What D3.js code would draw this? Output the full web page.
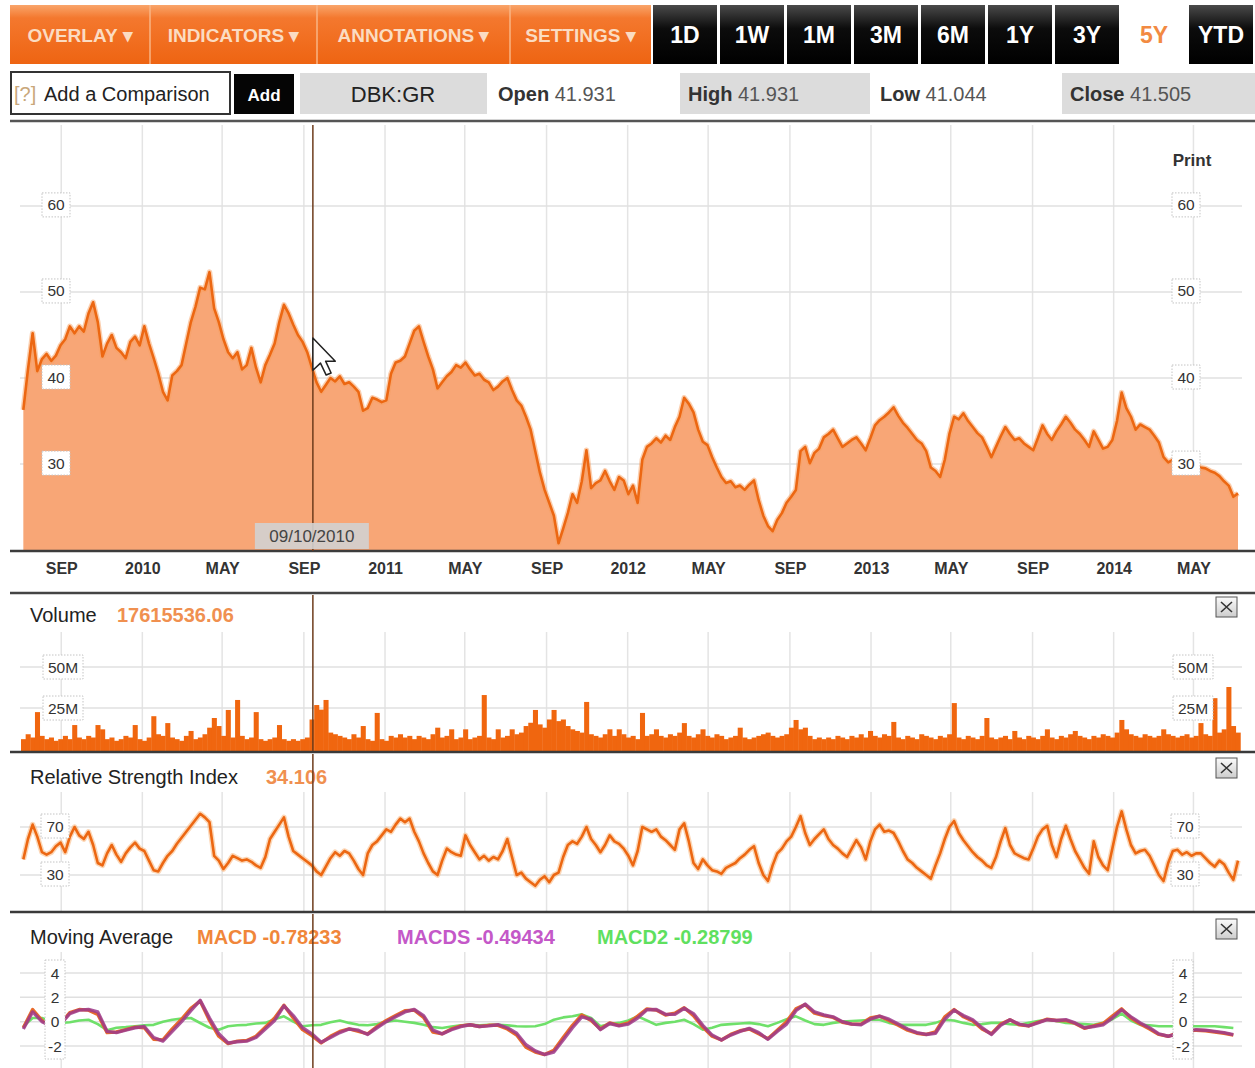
<!DOCTYPE html>
<html><head><meta charset="utf-8">
<script src="https://cdn.jsdelivr.net/npm/d3@7"></script>
<style>
html,body{margin:0;padding:0;background:#fff;}
svg{display:block;font-family:"Liberation Sans",Arial,sans-serif;}
</style></head><body>
<svg id="chart" width="1255" height="1068"></svg>
<script>
// ---------- data ----------
const weeklyStart = "2009-07-06";       // weekly samples (price, volume, RSI)
const fortnightStart = "2009-07-06";    // fortnightly samples (MACD family)

const priceValues = [
 36.3,41.0,45.2,40.8,42.2,42.8,42.0,42.6,43.8,44.5,
 46.0,45.2,46.0,45.4,47.5,48.8,46.5,42.5,44.0,45.0,
 43.5,43.0,42.3,44.2,44.8,43.8,46.0,44.0,42.3,40.5,
 38.4,37.4,40.3,40.8,41.5,44.0,46.5,48.3,50.5,50.3,
 52.3,48.1,46.5,44.5,43.0,42.3,43.0,41.0,41.5,43.5,
 41.2,39.5,41.5,42.7,44.0,46.5,48.5,47.5,46.2,45.0,
 44.2,43.0,41.2,39.5,38.4,39.2,40.0,39.6,40.2,39.3,
 39.5,39.0,38.4,36.2,36.5,37.7,37.5,37.2,37.4,40.5,
 41.8,42.0,42.5,44.0,45.5,46.0,44.2,42.5,41.0,38.8,
 39.5,40.2,40.7,41.5,41.2,41.8,41.0,40.3,40.5,39.8,
 39.5,38.6,39.0,39.6,40.0,38.6,37.4,36.8,35.5,34.0,
 31.5,29.0,27.0,25.5,24.0,20.8,22.5,24.3,26.5,25.5,
 28.0,31.6,27.2,27.8,28.1,29.2,28.0,27.0,28.5,28.1,
 26.5,27.5,25.5,30.5,32.0,32.4,33.0,32.5,33.3,32.8,
 34.3,35.5,37.7,37.0,36.0,34.0,32.6,32.2,30.8,29.6,
 28.5,27.8,28.0,27.3,27.5,27.0,27.6,28.1,25.8,24.0,
 22.8,22.2,23.5,24.3,25.5,26.2,27.0,31.5,32.0,30.1,
 31.3,31.8,33.1,33.5,34.0,33.0,32.0,32.4,32.8,33.1,
 32.4,31.6,33.0,34.5,35.1,35.5,36.0,36.6,35.6,34.8,
 34.2,33.5,32.8,32.4,31.5,29.6,29.2,28.5,30.5,33.5,
 35.5,35.2,35.9,35.0,34.3,33.6,33.1,32.0,30.8,32.0,
 33.2,34.3,33.5,32.8,33.0,32.4,32.0,31.6,33.0,34.5,
 33.5,32.8,33.8,34.6,35.5,34.8,34.0,33.5,32.8,32.0,
 33.8,32.8,31.8,32.0,32.8,35.0,38.3,36.5,35.5,34.0,
 34.6,34.3,34.0,33.3,32.5,30.8,30.2,30.5,30.0,30.6,
 30.2,29.8,30.0,29.6,29.5,29.2,29.0,28.6,28.0,27.5,
 26.2,26.6];

// volume in millions of shares
const volumeValues = [
 6,9,7,22.5,8,6,7,5,6,8,
 6,14.6,7,6,8,7,14.6,12,6,7,
 5,6,8,7,14.6,6,5,7,20,9,
 8,15.8,7,6,5,8,11,6,7,9,
 13,18.9,14,8,23.8,7,29.9,8,6,7,
 22.5,6,5,6,7,14.6,6,5,6,5,
 6,7,18,26.8,24,29.9,10,9,8,7,
 6,9,7,14,6,5,22,6,5,8,
 7,9,7,8,6,8,7,6,9,13,
 7,8,12,6,7,12,6,7,8,32.9,
 7,6,12,7,8,12,9,10,14,16,
 23.8,15,13,18,23.8,17,18,14,12,11,
 10,28.7,9,8,7,9,12,8,12,9,
 7,8,6,22,8,9,12,8,7,9,
 8,10,15.8,8,7,9,12,8,7,9,
 8,6,7,8,13,7,6,7,8,9,
 10,8,7,8,9,13,17.7,12,13,8,
 6,7,6,7,6,8,7,6,8,7,
 9,7,11,8,7,9,8,16.5,7,6,
 8,7,6,9,8,7,6,8,7,9,
 28,7,6,8,7,6,8,18.9,7,6,
 7,8,6,11,7,6,8,7,6,8,
 12,7,6,8,7,9,11,8,7,6,
 8,7,9,8,7,10,17.7,12,9,8,
 7,9,8,7,8,12,9,8,7,8,
 9,7,8,15.8,9,8,31,10,12,37.8,
 14,10];

const rsiValues = [
 43,60,72,62,49,47,49,54,57,49,
 62,70,63,60,66,55,40,38,48,55,
 47,41,48,53,57,52,50,42,34,33,
 40,46,50,56,61,66,71,76,81,78,
 74,46,42,35,40,46,44,42,43,41,
 38,36,45,60,66,72,78,62,50,47,
 44,41,38,33,30,37,44,49,46,50,
 48,42,35,30,48,55,58,63,68,66,
 72,77,74,77,66,58,48,40,33,30,
 42,52,49,47,46,63,55,49,43,46,
 42,45,43,50,60,45,30,32,27,24,
 21,26,29,24,30,32,45,55,58,56,
 62,70,60,55,49,55,63,58,56,52,
 46,38,50,70,68,66,68,62,59,55,
 51,68,73,58,40,35,43,38,34,33,
 31,36,38,40,44,47,51,54,40,30,
 25,38,48,52,58,62,70,79,65,55,
 60,64,68,60,55,52,48,45,52,59,
 53,43,58,68,72,66,67,65,58,50,
 43,40,36,33,30,27,38,48,60,70,
 75,65,59,54,49,45,42,38,36,45,
 58,69,55,48,46,44,43,52,62,68,
 71,55,45,60,71,60,50,43,36,31,
 58,45,38,34,52,70,83,68,55,48,
 50,51,46,38,30,25,40,50,51,47,
 49,46,48,48,44,40,37,42,39,32,
 26,42];

const macdValues = [
 -0.5,1.0,0.1,-0.4,-0.15,0.75,1.0,0.95,0.6,-0.9,
 -0.85,-0.65,-0.45,-0.5,-1.45,-1.5,-0.6,0.2,1.1,1.7,
 0.1,-1.2,-1.8,-1.6,-1.55,-1.2,-0.45,0.3,1.35,0.3,
 -0.65,-1.15,-1.75,-1.2,-0.8,-0.6,-0.8,-1.0,-0.4,0.1,
 0.5,0.9,0.95,0.35,-0.85,-1.0,-0.6,-0.35,-0.25,-0.4,
 -0.3,-0.3,-0.6,-1.1,-2.1,-2.5,-2.7,-2.35,-1.3,-0.3,
 0.55,0.1,-0.6,-0.1,-0.3,-0.1,0.45,1.05,0.95,0.55,
 0.7,1.15,0.5,-0.45,-1.2,-1.5,-1.05,-0.75,-0.6,-1.0,
 -1.4,-0.7,0.0,1.05,1.4,0.7,0.5,0.35,-0.05,-0.2,
 -0.2,0.3,0.45,0.1,-0.3,-0.7,-0.95,-1.05,-0.85,0.4,
 1.0,0.4,0.05,-0.6,-1.0,-0.2,0.15,-0.25,-0.35,-0.05,
 0.2,0.1,0.1,-0.15,-0.55,-0.35,-0.15,0.45,1.05,0.3,
 -0.2,-0.6,-1.05,-1.2,-0.95,-0.8,-0.7,-0.75,-0.85,-0.95,
 -1.1];

const macdsValues = [
 -0.6,0.8,0.0,-0.35,-0.2,0.66,0.95,1.0,0.8,-0.8,
 -0.9,-0.7,-0.5,-0.4,-1.3,-1.6,-0.8,0.0,0.9,1.75,
 0.3,-1.0,-1.75,-1.65,-1.6,-1.3,-0.6,0.1,1.3,0.5,
 -0.5,-1.0,-1.7,-1.3,-0.9,-0.6,-0.7,-1.05,-0.5,0.0,
 0.4,0.8,1.0,0.5,-0.7,-1.0,-0.66,-0.4,-0.25,-0.4,
 -0.35,-0.25,-0.5,-0.95,-1.9,-2.4,-2.7,-2.5,-1.5,-0.5,
 0.4,0.2,-0.66,-0.15,-0.35,-0.2,0.3,0.98,1.0,0.6,
 0.6,1.1,0.66,-0.3,-1.1,-1.5,-1.1,-0.8,-0.55,-0.9,
 -1.45,-0.8,-0.2,0.9,1.45,0.8,0.55,0.4,0.0,-0.2,
 -0.25,0.2,0.45,0.2,-0.2,-0.6,-0.9,-1.05,-0.95,0.2,
 0.95,0.5,0.16,-0.5,-1.05,-0.3,0.16,-0.2,-0.35,-0.1,
 0.16,0.1,0.16,-0.1,-0.5,-0.4,-0.26,0.3,0.98,0.4,
 -0.1,-0.5,-1.0,-1.2,-1.0,-0.8,-0.66,-0.7,-0.8,-0.9,
 -1.07];

const macd2Values = [
 -0.38,0.3,0.3,0.0,-0.1,-0.05,0.1,0.16,-0.2,-0.7,
 -0.5,-0.45,-0.38,-0.3,-0.26,0.0,0.16,0.25,0.3,-0.11,
 -0.5,-0.66,-0.38,-0.3,-0.26,-0.15,-0.1,0.2,0.44,0.0,
 -0.38,-0.3,-0.26,-0.05,0.1,-0.1,-0.26,-0.3,-0.2,0.0,
 0.1,0.0,-0.1,-0.26,-0.45,-0.52,-0.4,-0.3,-0.26,-0.3,
 -0.26,-0.26,-0.3,-0.38,-0.4,-0.38,-0.2,0.16,0.35,0.44,
 0.6,0.3,-0.38,-0.2,-0.1,0.1,0.44,0.1,-0.26,-0.1,
 0.0,0.16,-0.2,-0.66,-0.5,-0.26,-0.2,-0.15,-0.1,-0.2,
 -0.38,-0.1,0.2,0.44,0.1,-0.2,-0.26,-0.1,0.0,0.05,
 0.1,0.16,0.16,-0.1,-0.26,-0.26,-0.26,-0.26,-0.1,0.16,
 0.1,-0.1,-0.26,-0.2,-0.1,-0.1,-0.2,-0.26,-0.1,0.05,
 0.16,0.05,-0.1,-0.15,-0.2,-0.26,-0.1,0.2,0.66,0.1,
 -0.26,-0.3,-0.38,-0.38,-0.38,-0.38,-0.38,-0.38,-0.38,-0.45,
 -0.52];

const priceTicks = [30, 40, 50, 60];
const volumeTicks = [25, 50];
const volumeTickLabels = ["25M", "50M"];
const rsiTicks = [30, 70];
const macdTicks = [4, 2, 0, -2];
const monthTickLabels = ["SEP","2010","MAY","SEP","2011","MAY","SEP","2012","MAY","SEP","2013","MAY","SEP","2014","MAY"];

const toolbarMenus = ["OVERLAY \u25BE","INDICATORS \u25BE","ANNOTATIONS \u25BE","SETTINGS \u25BE"];
const rangeButtons = ["1D","1W","1M","3M","6M","1Y","3Y","5Y","YTD"];
const activeRange = "5Y";
const symbol = "DBK:GR";
const quoteLabels = ["Open","High","Low","Close"];
const quoteValues = ["41.931","41.931","41.044","41.505"];
const crosshairDate = "2010-09-10";
const crosshairLabel = "09/10/2010";
const volumeReadout = "17615536.06";
const rsiReadout = "34.106";
const macdReadouts = [["MACD","-0.78233"],["MACDS","-0.49434"],["MACD2","-0.28799"]];

// ---------- setup ----------
const svg = d3.select("#chart");
const defs = svg.append("defs");
const parse = d3.timeParse("%Y-%m-%d");
const wk0 = parse(weeklyStart), fn0 = parse(fortnightStart);
const weekDates = priceValues.map((_, i) => d3.timeDay.offset(wk0, 7 * i));
const fortDates = macdValues.map((_, i) => d3.timeDay.offset(fn0, 14 * i));

const ORANGE = "#ec6712", FILL = "#f8a676";

function vgrad(id, stops) {
  const g = defs.append("linearGradient").attr("id", id).attr("x1", 0).attr("y1", 0).attr("x2", 0).attr("y2", 1);
  stops.forEach(([o, c]) => g.append("stop").attr("offset", o).attr("stop-color", c));
}
vgrad("menuGrad", [["0%", "#f9a56a"], ["22%", "#f4782e"], ["100%", "#ee6412"]]);
vgrad("blackGrad", [["0%", "#4a4a4a"], ["40%", "#0c0c0c"], ["100%", "#000"]]);
vgrad("closeGrad", [["0%", "#fbfbfb"], ["100%", "#cdcdcd"]]);

const x = d3.scaleTime()
  .domain([new Date(2009, 6, 4), new Date(2014, 6, 7)])
  .range([22, 1238]);
const monthTicks = x.ticks(d3.timeMonth.every(4));

// ---------- toolbar ----------
const menuEdges = [10, 150, 317, 510, 651];
const tb = svg.append("g");
tb.append("rect").attr("x", 10).attr("y", 5).attr("width", 641).attr("height", 59).attr("fill", "url(#menuGrad)");
toolbarMenus.forEach((m, i) => {
  if (i > 0) tb.append("line").attr("x1", menuEdges[i]).attr("x2", menuEdges[i])
    .attr("y1", 5).attr("y2", 64).attr("stroke", "#f8b585").attr("stroke-width", 1.5);
  tb.append("text").attr("x", (menuEdges[i] + menuEdges[i + 1]) / 2).attr("y", 42)
    .attr("text-anchor", "middle").attr("font-size", 19).attr("font-weight", "bold")
    .attr("fill", "#fbdcc2").text(m);
});
rangeButtons.forEach((r, i) => {
  const bx = 653 + i * 67;
  const active = r === activeRange;
  tb.append("rect").attr("x", bx).attr("y", 5).attr("width", 64).attr("height", 59)
    .attr("fill", active ? "#fff" : "url(#blackGrad)");
  tb.append("text").attr("x", bx + 32).attr("y", 43).attr("text-anchor", "middle")
    .attr("font-size", 23).attr("font-weight", "bold")
    .attr("fill", active ? "#f28a42" : "#fff").text(r);
});

// ---------- quote row ----------
const qr = svg.append("g");
qr.append("rect").attr("x", 11).attr("y", 72).attr("width", 219).attr("height", 42)
  .attr("fill", "#fff").attr("stroke", "#333").attr("stroke-width", 2);
qr.append("text").attr("x", 14).attr("y", 101).attr("font-size", 20).attr("fill", "#c9a77a").text("[?]");
qr.append("text").attr("x", 44).attr("y", 101).attr("font-size", 20).attr("fill", "#222").text("Add a Comparison");
qr.append("rect").attr("x", 234).attr("y", 74).attr("width", 60).attr("height", 40).attr("fill", "#050505");
qr.append("text").attr("x", 264).attr("y", 101).attr("text-anchor", "middle").attr("font-size", 17)
  .attr("font-weight", "bold").attr("fill", "#fff").text("Add");
qr.append("rect").attr("x", 300).attr("y", 73).attr("width", 187).attr("height", 41).attr("fill", "#dcdcdc");
qr.append("text").attr("x", 393).attr("y", 102).attr("text-anchor", "middle").attr("font-size", 22)
  .attr("fill", "#222").text(symbol);
const quoteSlots = [{x: 498, box: false}, {x: 688, box: true, bx: 680, bw: 190}, {x: 880, box: false}, {x: 1070, box: true, bx: 1062, bw: 193}];
quoteLabels.forEach((lab, i) => {
  const s = quoteSlots[i];
  if (s.box) qr.append("rect").attr("x", s.bx).attr("y", 73).attr("width", s.bw).attr("height", 41).attr("fill", "#dcdcdc");
  const t = qr.append("text").attr("x", s.x).attr("y", 101).attr("font-size", 20);
  t.append("tspan").attr("font-weight", "bold").attr("fill", "#333").text(lab);
  t.append("tspan").attr("fill", "#555").text(" " + quoteValues[i]);
});

// ---------- panel frames ----------
const panels = {
  price: {top: 125, bottom: 551},
  volume: {top: 632, bottom: 751},
  rsi: {top: 792, bottom: 911},
  macd: {top: 952, bottom: 1068}
};
const gridG = svg.append("g");
Object.values(panels).forEach(p => {
  gridG.selectAll(null).data(monthTicks).join("line")
    .attr("x1", d => x(d)).attr("x2", d => x(d)).attr("y1", p.top).attr("y2", p.bottom)
    .attr("stroke", "#e4e4e4").attr("stroke-width", 1.5);
});

function clip(id, top, bottom) {
  defs.append("clipPath").attr("id", id).append("rect")
    .attr("x", 10).attr("y", top).attr("width", 1245).attr("height", bottom - top);
  return `url(#${id})`;
}

function hgrid(scale, ticks) {
  gridG.selectAll(null).data(ticks).join("line")
    .attr("x1", 20).attr("x2", 1242).attr("y1", d => scale(d)).attr("y2", d => scale(d))
    .attr("stroke", "#e0e0e0").attr("stroke-width", 1.5);
}

// ---------- price panel ----------
const yP = d3.scaleLinear().domain([19.9, 69.4]).range([551, 125]);
hgrid(yP, priceTicks);
const priceG = svg.append("g").attr("clip-path", clip("cPrice", 123, 551));
const priceData = priceValues.map((v, i) => ({d: weekDates[i], v}));
priceG.append("path").datum(priceData)
  .attr("d", d3.area().x(p => x(p.d)).y0(551).y1(p => yP(p.v)))
  .attr("fill", FILL);
priceG.append("path").datum(priceData)
  .attr("d", d3.line().x(p => x(p.d)).y(p => yP(p.v)))
  .attr("fill", "none").attr("stroke", "#f7a060").attr("stroke-width", 5.5).attr("stroke-opacity", 0.5).attr("stroke-linejoin", "round");
priceG.append("path").datum(priceData)
  .attr("d", d3.line().x(p => x(p.d)).y(p => yP(p.v)))
  .attr("fill", "none").attr("stroke", ORANGE).attr("stroke-width", 2.6).attr("stroke-linejoin", "round");

// ---------- volume panel ----------
const yV = d3.scaleLinear().domain([0, 50]).range([749, 667]);
hgrid(yV, volumeTicks);
const volG = svg.append("g").attr("clip-path", clip("cVol", 600, 751));
const barW = x(weekDates[1]) - x(weekDates[0]);
volG.selectAll("rect").data(volumeValues).join("rect")
  .attr("x", (v, i) => x(weekDates[i]) - barW / 2)
  .attr("width", barW + 0.4)
  .attr("y", v => yV(v))
  .attr("height", v => 751 - yV(v))
  .attr("fill", "#f0660f");

// ---------- RSI panel ----------
const yR = d3.scaleLinear().domain([30, 70]).range([875, 827]);
hgrid(yR, rsiTicks);
const rsiG = svg.append("g").attr("clip-path", clip("cRsi", 760, 911));
const rsiLine = d3.line().x((v, i) => x(weekDates[i])).y(v => yR(v));
rsiG.append("path").datum(rsiValues).attr("d", rsiLine)
  .attr("fill", "none").attr("stroke", "#f9b070").attr("stroke-width", 5.5).attr("stroke-opacity", 0.5).attr("stroke-linejoin", "round");
rsiG.append("path").datum(rsiValues).attr("d", rsiLine)
  .attr("fill", "none").attr("stroke", ORANGE).attr("stroke-width", 2.6).attr("stroke-linejoin", "round");

// ---------- MACD panel ----------
const yM = d3.scaleLinear().domain([-2, 4]).range([1046, 973]);
hgrid(yM, macdTicks);
const macdG = svg.append("g").attr("clip-path", clip("cMacd", 920, 1068));
const mLine = d3.line().x((v, i) => x(fortDates[i])).y(v => yM(v));
macdG.append("path").datum(macd2Values).attr("d", mLine)
  .attr("fill", "none").attr("stroke", "#6fe06a").attr("stroke-width", 2.6).attr("stroke-linejoin", "round");
macdG.append("path").datum(macdValues).attr("d", mLine)
  .attr("fill", "none").attr("stroke", "#e86a2a").attr("stroke-width", 3.4).attr("stroke-linejoin", "round");
macdG.append("path").datum(macdsValues).attr("d", mLine)
  .attr("fill", "none").attr("stroke", "#9c3a8c").attr("stroke-width", 3.4).attr("stroke-opacity", 0.85).attr("stroke-linejoin", "round");

// ---------- separators ----------
const sep = svg.append("g");
[[121, 2.5, "#555"], [551, 2.5, "#3c3c3c"], [593, 2.5, "#444"], [752, 2.5, "#3a3a3a"], [912, 2.5, "#3a3a3a"]]
  .forEach(([yy, w, c]) => sep.append("line").attr("x1", 10).attr("x2", 1255).attr("y1", yy).attr("y2", yy)
    .attr("stroke", c).attr("stroke-width", w));

// ---------- x axis ----------
const xAxis = svg.append("g").attr("transform", "translate(0,551)")
  .call(d3.axisBottom(x).tickValues(monthTicks).tickFormat((d, i) => monthTickLabels[i]).tickSize(0).tickPadding(12));
xAxis.select(".domain").remove();
xAxis.selectAll("text").attr("font-size", 16).attr("font-weight", "bold").attr("fill", "#333")
  .attr("font-family", "'Liberation Sans', Arial, sans-serif");

// ---------- y labels ----------
const lab = svg.append("g");
function tag(cx, cy, text, w) {
  lab.append("rect").attr("x", cx - w / 2).attr("y", cy - 12).attr("width", w).attr("height", 24)
    .attr("fill", "#fff").attr("stroke", "#c4c4c4").attr("stroke-dasharray", "1.5,1.5");
  lab.append("text").attr("x", cx).attr("y", cy + 5.5).attr("text-anchor", "middle")
    .attr("font-size", 15.5).attr("fill", "#333").text(text);
}
priceTicks.forEach(t => { tag(56, yP(t) - 1, t, 28); tag(1186, yP(t) - 1, t, 28); });
volumeTicks.forEach((t, i) => { tag(63, yV(t), volumeTickLabels[i], 40); tag(1193, yV(t), volumeTickLabels[i], 40); });
rsiTicks.forEach(t => { tag(55, yR(t) - 1, t, 28); tag(1185, yR(t) - 1, t, 28); });
[55, 1183].forEach(cx => {
  lab.append("rect").attr("x", cx - 10).attr("y", yM(4) - 13).attr("width", 20).attr("height", yM(-2) - yM(4) + 26)
    .attr("fill", "#fff").attr("stroke", "#c4c4c4").attr("stroke-dasharray", "1.5,1.5");
  macdTicks.forEach(t => lab.append("text").attr("x", cx).attr("y", yM(t) + 5.5).attr("text-anchor", "middle")
    .attr("font-size", 15.5).attr("fill", "#333").text(t));
});
lab.append("text").attr("x", 1192).attr("y", 166).attr("text-anchor", "middle").attr("font-size", 17)
  .attr("font-weight", "bold").attr("fill", "#333").text("Print");

// ---------- panel titles ----------
const ttl = svg.append("g").attr("font-size", 20);
const t1 = ttl.append("text").attr("x", 30).attr("y", 622);
t1.append("tspan").attr("fill", "#222").text("Volume");
t1.append("tspan").attr("x", 117).attr("font-weight", "bold").attr("fill", "#f09050").text(volumeReadout);
const t2 = ttl.append("text").attr("x", 30).attr("y", 784);
t2.append("tspan").attr("fill", "#222").text("Relative Strength Index");
t2.append("tspan").attr("x", 266).attr("font-weight", "bold").attr("fill", "#f09050").text(rsiReadout);
const t3 = ttl.append("text").attr("x", 30).attr("y", 944);
t3.append("tspan").attr("fill", "#222").text("Moving Average");
const readColors = ["#f0863a", "#c458c8", "#5fe05f"];
const readX = [197, 397, 597];
macdReadouts.forEach(([k, v], i) => t3.append("tspan").attr("x", readX[i]).attr("fill", readColors[i])
  .attr("font-weight", "bold").text(k + " " + v));

// close boxes
[597, 758, 919].forEach(yy => {
  lab.append("rect").attr("x", 1216).attr("y", yy).attr("width", 21).attr("height", 20)
    .attr("fill", "url(#closeGrad)").attr("stroke", "#555");
  lab.append("path").attr("d", `M${1221},${yy + 5}L${1232},${yy + 15}M${1232},${yy + 5}L${1221},${yy + 15}`)
    .attr("stroke", "#333").attr("stroke-width", 1.6);
});

// ---------- crosshair ----------
const cx = x(parse(crosshairDate));
const ch = svg.append("g");
[[125, 551], [595, 751], [754, 911], [914, 1068]].forEach(([a, b]) =>
  ch.append("line").attr("x1", cx + 3).attr("x2", cx + 3).attr("y1", a).attr("y2", b)
    .attr("stroke", "#6e3c1c").attr("stroke-width", 1.5));
ch.append("rect").attr("x", cx - 55).attr("y", 523).attr("width", 114).attr("height", 26)
  .attr("fill", "#d2d2d2").attr("fill-opacity", 0.9);
ch.append("text").attr("x", cx + 2).attr("y", 542).attr("text-anchor", "middle").attr("font-size", 17)
  .attr("fill", "#444").text(crosshairLabel);
// mouse pointer
ch.append("path")
  .attr("d", "M0,0 L0,17 L4,13.2 L7,19.5 L9.6,18.4 L6.7,12.2 L11.8,12.2 Z")
  .attr("transform", `translate(${cx + 3},${338}) scale(1.9)`)
  .attr("fill", "#fff").attr("stroke", "#222").attr("stroke-width", 0.8).attr("stroke-linejoin", "round");
</script>
</body></html>
